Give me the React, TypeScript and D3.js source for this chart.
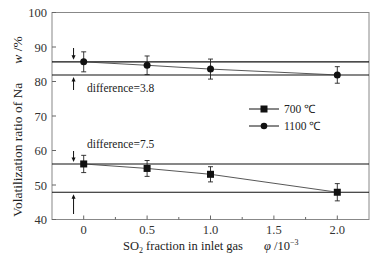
import React from "react";
import * as d3 from "d3";

const xValues = [0, 0.5, 1.0, 2.0];
const series700 = [56.1, 54.8, 53.1, 47.9];
const err700 = [2.5, 2.3, 2.2, 2.5];
const series1100 = [85.7, 84.7, 83.6, 81.9];
const err1100 = [2.9, 2.7, 2.9, 2.4];
const yTicks = [40, 50, 60, 70, 80, 90, 100];
const xTicks = [0, 0.5, 1.0, 1.5, 2.0];
const xMinorTicks = [0.25, 0.75, 1.25, 1.75];
const refLines = [85.7, 81.9, 56.1, 47.9];

const W = 380, H = 259;
const L = 52, R = 369, T = 12.5, B = 219.5;

export default function App() {
  const x = d3.scaleLinear().domain([-0.25, 2.25]).range([L, R]);
  const y = d3.scaleLinear().domain([40, 100]).range([B, T]);
  const line = d3.line<number>().x((_, i) => x(xValues[i])).y((d) => y(d));
  const font = '"Liberation Serif", "Times New Roman", serif';
  const arrowX = x(-0.08);

  const errBars = (vals: number[], errs: number[]) =>
    vals.map((v, i) => (
      <g key={i} stroke="#222" strokeWidth={0.9}>
        <line x1={x(xValues[i])} x2={x(xValues[i])} y1={y(v + errs[i])} y2={y(v - errs[i])} />
        <line x1={x(xValues[i]) - 2.5} x2={x(xValues[i]) + 2.5} y1={y(v + errs[i])} y2={y(v + errs[i])} />
        <line x1={x(xValues[i]) - 2.5} x2={x(xValues[i]) + 2.5} y1={y(v - errs[i])} y2={y(v - errs[i])} />
      </g>
    ));

  const arrow = (yFrom: number, yTo: number, key: string) => {
    const dir = yTo > yFrom ? 1 : -1;
    return (
      <g key={key}>
        <line x1={arrowX} x2={arrowX} y1={yFrom} y2={yTo - dir * 3} stroke="#111" strokeWidth={1} />
        <path d={`M${arrowX - 2},${yTo - dir * 4.5} L${arrowX + 2},${yTo - dir * 4.5} L${arrowX},${yTo} Z`} fill="#111" />
      </g>
    );
  };

  return (
    <svg width={W} height={H} style={{ position: "absolute", left: 0, top: 0, background: "#fff", fontFamily: font }}>
      <rect x={L} y={T} width={R - L} height={B - T} fill="none" stroke="#888" strokeWidth={1} />
      {yTicks.map((t) => (
        <g key={t}>
          <line x1={L} x2={L + 4} y1={y(t)} y2={y(t)} stroke="#666" />
          <text x={L - 5} y={y(t) + 4.5} textAnchor="end" fontSize={12.5} fill="#333">{t}</text>
        </g>
      ))}
      {xTicks.map((t) => (
        <g key={t}>
          <line x1={x(t)} x2={x(t)} y1={B} y2={B - 4} stroke="#666" />
          <text x={x(t)} y={B + 14} textAnchor="middle" fontSize={12.5} fill="#333">{t.toFixed(t === 0 ? 0 : 1)}</text>
        </g>
      ))}
      {xMinorTicks.map((t) => (
        <line key={t} x1={x(t)} x2={x(t)} y1={B} y2={B - 2.5} stroke="#666" />
      ))}
      {refLines.map((v, i) => (
        <line key={i} x1={L} x2={R} y1={y(v)} y2={y(v)} stroke="#111" strokeWidth={1.1} />
      ))}
      <path d={line(series1100) || ""} fill="none" stroke="#444" strokeWidth={0.9} />
      <path d={line(series700) || ""} fill="none" stroke="#444" strokeWidth={0.9} />
      {errBars(series1100, err1100)}
      {errBars(series700, err700)}
      {series1100.map((v, i) => (
        <circle key={i} cx={x(xValues[i])} cy={y(v)} r={3.5} fill="#111" />
      ))}
      {series700.map((v, i) => (
        <rect key={i} x={x(xValues[i]) - 3.5} y={y(v) - 3.5} width={7} height={7} fill="#111" />
      ))}
      {arrow(48, y(85.7) - 2, "a1")}
      {arrow(90, y(81.9) + 2, "a2")}
      {arrow(151, y(56.1) - 2, "a3")}
      {arrow(214, y(47.9) + 2, "a4")}
      <text x={87} y={92} fontSize={11.5} fill="#222">difference=3.8</text>
      <text x={87} y={148} fontSize={11.5} fill="#222">difference=7.5</text>
      <g>
        <line x1={249} x2={279} y1={109} y2={109} stroke="#111" />
        <rect x={260.5} y={105.5} width={7} height={7} fill="#111" />
        <text x={284} y={113} fontSize={11.5} fill="#222">700 ℃</text>
        <line x1={249} x2={279} y1={126} y2={126} stroke="#111" />
        <circle cx={264} cy={126} r={3.3} fill="#111" />
        <text x={284} y={130} fontSize={11.5} fill="#222">1100 ℃</text>
      </g>
      <text transform={`translate(22,217) rotate(-90)`} textAnchor="start" fontSize={13.5} fill="#222">
        Volatilization ratio of Na<tspan dx={19} fontStyle="italic">w</tspan><tspan> /%</tspan>
      </text>
      <text x={123} y={250} fontSize={12.5} fill="#222">
        SO<tspan fontSize={8} dy={3}>2</tspan><tspan dy={-3}> fraction in inlet gas</tspan>
      </text>
      <text x={264} y={250} fontSize={12.5} fill="#222">
        <tspan fontStyle="italic">φ</tspan> /10<tspan fontSize={8} dy={-5}>−3</tspan>
      </text>
    </svg>
  );
}
